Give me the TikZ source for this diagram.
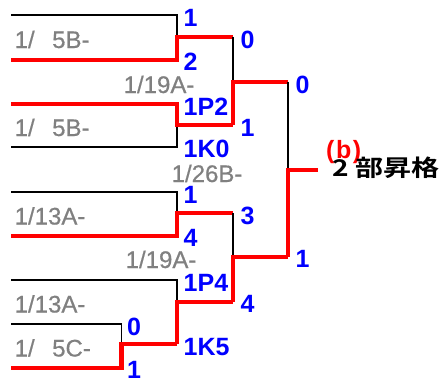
\documentclass[tikz,border=0pt]{standalone}
\usepackage{fontspec}
\setmainfont{Liberation Sans}
\newfontfamily\teamfont{Liberation Sans}[FakeBold=0.6]
\newfontfamily\cjkfont{Noto Sans CJK JP Bold}[FakeStretch=1.22]
\definecolor{tgray}{RGB}{128,128,128}
\definecolor{sblue}{RGB}{0,0,255}
\definecolor{wred}{RGB}{255,0,0}
\begin{document}
\begin{tikzpicture}[x=1pt,y=-1pt,
  lose/.style={draw=black,line width=1.6pt},
  win/.style={draw=wred,line width=4.5pt,line join=miter},
  score/.style={anchor=base west,inner sep=0pt,text=sblue,font=\bfseries\fontsize{25}{25}\selectfont},
  team/.style={anchor=base west,inner sep=0pt,text=tgray,font=\teamfont\fontsize{24}{24}\selectfont}]
\useasboundingbox (0,0) rectangle (439,381);
% junction points
\coordinate (m1) at (177,37);
\coordinate (m2) at (177,125);
\coordinate (m3) at (177,213);
\coordinate (m4) at (177,302);
\coordinate (sb) at (121.5,344);
\coordinate (s1) at (233,82);
\coordinate (s2) at (233,257);
\coordinate (fn) at (288,170);
\coordinate (champ) at (318,170);
% first round
\draw[lose] (11,15) -| (m1);
\draw[win] (11,60) -| (m1) -- (m1 -| s1);
\draw[lose] (11,147) -| (m2);
\draw[win] (11,104) -| (m2) -- (m2 -| s1);
\draw[lose] (11,192) -| (m3);
\draw[win] (11,236) -| (m3) -- (m3 -| s2);
\draw[lose] (11,324) -| (sb);
\draw[win] (11,368) -| (sb) -- (sb -| m4);
\draw[lose] (11,280) -| (m4);
\draw[win] (sb -| m4) -- (m4) -- (m4 -| s2);
% semifinals
\draw[lose] (m1 -| s1) -- (s1);
\draw[win] (m2 -| s1) -- (s1) -- (s1 -| fn);
\draw[lose] (m3 -| s2) -- (s2);
\draw[win] (m4 -| s2) -- (s2) -- (s2 -| fn);
% final
\draw[lose] (s1 -| fn) -- (fn);
\draw[win] (s2 -| fn) -- (fn) -- (champ);
% team labels
\node[team] (t1) at (14.5,48) {1/\hspace{17.5pt}5B-};
\node[team] (t2) at (14.5,136) {1/\hspace{17.5pt}5B-};
\node[team] (t3) at (14.5,224.5) {1/13A-};
\node[team] (t4) at (14.5,312.5) {1/13A-};
\node[team] (t5) at (14.5,356.5) {1/\hspace{17.5pt}5C-};
\node[team] (d1) at (123.5,93) {1/19A-};
\node[team] (d2) at (171.5,182) {1/26B-};
\node[team] (d3) at (125.5,268) {1/19A-};
% scores
\node[score] (a1) at (183.5,26) {1};
\node[score] (a2) at (183.5,70) {2};
\node[score] (a3) at (183.5,115) {1P2};
\node[score] (a4) at (183.5,157) {1K0};
\node[score] (a5) at (183.5,203) {1};
\node[score] (a6) at (183.5,246) {4};
\node[score] (a7) at (183.5,291) {1P4};
\node[score] (a8) at (183.5,355) {1K5};
\node[score] (b1) at (127,335) {0};
\node[score] (b2) at (127,378) {1};
\node[score] (c1) at (240.5,48) {0};
\node[score] (c2) at (240.5,136) {1};
\node[score] (c3) at (240.5,224) {3};
\node[score] (c4) at (240.5,312) {4};
\node[score] (e1) at (295.5,93) {0};
\node[score] (e2) at (295.5,267) {1};
% result
\node[anchor=base west,inner sep=0pt,text=wred,font=\bfseries\fontsize{25}{25}\selectfont] (tag) at (326,158) {(\hspace{1.5pt}b\hspace{1.5pt})};
\node[anchor=base west,inner sep=0pt,text=black,font=\cjkfont\fontsize{23}{23}\selectfont] (res) at (332,176.5) {2 部昇格};
\end{tikzpicture}
\end{document}
